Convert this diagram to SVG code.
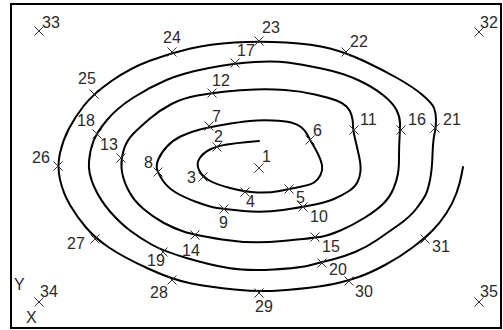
<svg xmlns="http://www.w3.org/2000/svg" xmlns:xlink="http://www.w3.org/1999/xlink" width="503" height="330" viewBox="0 0 503 330">
<style>
.lbl{font-family:"Liberation Sans",Arial,sans-serif;font-size:16px;fill:#2a2a2a}
.mk{stroke:#333;stroke-width:1;fill:none}
.sp{stroke:#000;stroke-width:2;fill:none;stroke-linecap:round;stroke-linejoin:round}
</style>
<defs>
<path id="x" class="mk" d="M-4.5,-4.5L4.5,4.5M-4.5,4.5L4.5,-4.5"/>
</defs>
<rect x="0" y="0" width="503" height="330" fill="#fff"/>
<rect x="11" y="4" width="490" height="324" fill="none" stroke="#000" stroke-width="2"/>
<g id="connectors">
<path class="sp" d="M259,141 L248,142 Q237,143 227,144.5 Q217,146 210,149.5 Q203,153 199.5,158.5 Q196,164 199,170 Q202,176 208.5,180 Q215,184 230,188 Q245,192 257.5,192.5 Q270,193 279.5,191 Q289,189 299.5,187 Q310,185 314,182.5 Q318,180 320.5,175 Q323,170 322,165 Q321,160 318,154 Q315,148 312.5,144 Q310,140 307.5,135 Q305,130 301,127 Q297,124 291,122.5 Q285,121 272.5,120.5 Q260,120 250,121 Q240,122 225,124.5 Q210,127 200,129.5 Q190,132 181.5,136 Q173,140 167,146.5 Q161,153 158.5,159 Q156,165 157,169 Q158,173 162.5,180 Q167,187 175,192 Q183,197 196.5,202 Q210,207 217,208 Q224,209 243.5,211 Q263,213 283,210 Q303,207 315,204.5 Q327,202 335,198.5 Q343,195 349,191 Q355,187 357.5,182 Q360,177 360.5,171 Q361,165 359,156 Q357,147 355,138.5 Q353,130 353,125 Q353,120 351.5,115 Q350,110 346.5,106.5 Q343,103 336.5,100.5 Q330,98 315,94.5 Q300,91 285,90 Q270,89 255,89.5 Q240,90 226,91.5 Q212,93 197.5,95.5 Q183,98 171.5,104 Q160,110 150,118.5 Q140,127 133.5,133.5 Q127,140 124,149 Q121,158 121.5,167.5 Q122,177 127.5,188.5 Q133,200 143,208.5 Q153,217 163,222.5 Q173,228 183.5,231.5 Q194,235 222,239.5 Q250,244 282.5,241 Q315,238 322.5,236.5 Q330,235 341.5,230 Q353,225 365,217.5 Q377,210 383.5,203.5 Q390,197 393.5,188.5 Q397,180 398,173.5 Q399,167 399,157 Q399,147 399.5,138.5 Q400,130 400,123.5 Q400,117 396.5,110 Q393,103 383,95 Q373,87 358,80 Q343,73 321.5,68.5 Q300,64 287.5,62.5 Q275,61 255,62 Q235,63 209,68 Q183,73 166.5,80 Q150,87 133.5,97.5 Q117,108 107,120 Q97,132 93.5,141 Q90,150 89,161.5 Q88,173 94,186.5 Q100,200 110,211.5 Q120,223 130,230.5 Q140,238 151.5,244.5 Q163,251 186.5,258 Q210,265 228.5,268 Q247,271 273.5,269.5 Q300,268 311,265 Q322,262 332.5,259.5 Q343,257 355,252 Q367,247 377,240 Q387,233 398.5,225 Q410,217 416.5,208.5 Q423,200 425.5,195 Q428,190 430,180 Q432,170 432.5,155 Q433,140 434.5,134 Q436,128 436,120.5 Q436,113 434,108 Q432,103 422.5,95 Q413,87 398,78.5 Q383,70 365,61.5 Q347,53 330,48.5 Q313,44 286,42.5 Q259,41 234.5,42.5 Q210,44 190.5,48.5 Q171,53 150.5,60.5 Q130,68 111.5,81 Q93,94 84,105.5 Q75,117 69,128.5 Q63,140 60,153 Q57,166 60,179.5 Q63,193 70,205 Q77,217 86,227.5 Q95,238 109,247.5 Q123,257 148,268.5 Q173,280 191.5,283.5 Q210,287 234.5,289.5 Q259,292 279.5,290.5 Q300,289 315,287 Q330,285 340,282.5 Q350,280 360,276.5 Q370,273 385,265 Q400,257 412.5,247.5 Q425,238 432.5,230.5 Q440,223 446.5,213 Q453,203 456.5,193 Q460,183 461.5,175 L463,167"/>
</g>
<g id="n1"><use xlink:href="#x" x="259" y="168"/><text class="lbl" x="262" y="162">1</text></g>
<g id="n2"><use xlink:href="#x" x="217" y="147"/><text class="lbl" x="214" y="142">2</text></g>
<g id="n3"><use xlink:href="#x" x="203" y="177"/><text class="lbl" x="187" y="183">3</text></g>
<g id="n4"><use xlink:href="#x" x="245" y="192"/><text class="lbl" x="246" y="207">4</text></g>
<g id="n5"><use xlink:href="#x" x="289" y="189"/><text class="lbl" x="296" y="203">5</text></g>
<g id="n6"><use xlink:href="#x" x="310" y="140"/><text class="lbl" x="313" y="136">6</text></g>
<g id="n7"><use xlink:href="#x" x="209" y="126"/><text class="lbl" x="212" y="122">7</text></g>
<g id="n8"><use xlink:href="#x" x="158" y="172"/><text class="lbl" x="144" y="168">8</text></g>
<g id="n9"><use xlink:href="#x" x="224" y="209"/><text class="lbl" x="219" y="228">9</text></g>
<g id="n10"><use xlink:href="#x" x="303" y="207"/><text class="lbl" x="310" y="222">10</text></g>
<g id="n11"><use xlink:href="#x" x="354" y="130"/><text class="lbl" x="360" y="125">11</text></g>
<g id="n12"><use xlink:href="#x" x="212" y="93"/><text class="lbl" x="212" y="86">12</text></g>
<g id="n13"><use xlink:href="#x" x="121" y="158"/><text class="lbl" x="100" y="150">13</text></g>
<g id="n14"><use xlink:href="#x" x="195" y="235"/><text class="lbl" x="182" y="256">14</text></g>
<g id="n15"><use xlink:href="#x" x="315" y="237"/><text class="lbl" x="322" y="252">15</text></g>
<g id="n16"><use xlink:href="#x" x="401" y="130"/><text class="lbl" x="408" y="125">16</text></g>
<g id="n17"><use xlink:href="#x" x="235" y="63"/><text class="lbl" x="237" y="56">17</text></g>
<g id="n18"><use xlink:href="#x" x="97" y="134"/><text class="lbl" x="77" y="126">18</text></g>
<g id="n19"><use xlink:href="#x" x="163" y="252"/><text class="lbl" x="147" y="266">19</text></g>
<g id="n20"><use xlink:href="#x" x="322" y="263"/><text class="lbl" x="329" y="275">20</text></g>
<g id="n21"><use xlink:href="#x" x="435" y="128"/><text class="lbl" x="443" y="125">21</text></g>
<g id="n22"><use xlink:href="#x" x="346" y="52"/><text class="lbl" x="350" y="47">22</text></g>
<g id="n23"><use xlink:href="#x" x="259" y="41"/><text class="lbl" x="262" y="33">23</text></g>
<g id="n24"><use xlink:href="#x" x="172" y="52"/><text class="lbl" x="163" y="43">24</text></g>
<g id="n25"><use xlink:href="#x" x="94" y="94"/><text class="lbl" x="78" y="84">25</text></g>
<g id="n26"><use xlink:href="#x" x="58" y="166"/><text class="lbl" x="32" y="163">26</text></g>
<g id="n27"><use xlink:href="#x" x="95" y="239"/><text class="lbl" x="67" y="249">27</text></g>
<g id="n28"><use xlink:href="#x" x="172" y="280"/><text class="lbl" x="150" y="298">28</text></g>
<g id="n29"><use xlink:href="#x" x="259" y="293"/><text class="lbl" x="255" y="312">29</text></g>
<g id="n30"><use xlink:href="#x" x="349" y="281"/><text class="lbl" x="355" y="297">30</text></g>
<g id="n31"><use xlink:href="#x" x="425" y="239"/><text class="lbl" x="432" y="252">31</text></g>
<g id="n32"><use xlink:href="#x" x="479" y="32"/><text class="lbl" x="480" y="28">32</text></g>
<g id="n33"><use xlink:href="#x" x="39" y="31"/><text class="lbl" x="42" y="28">33</text></g>
<g id="n34"><use xlink:href="#x" x="39" y="302"/><text class="lbl" x="40" y="297">34</text></g>
<g id="n35"><use xlink:href="#x" x="479" y="302"/><text class="lbl" x="480" y="297">35</text></g>
<g id="axisY"><text class="lbl" x="14" y="290">Y</text></g>
<g id="axisX"><text class="lbl" x="26" y="323">X</text></g>
</svg>
